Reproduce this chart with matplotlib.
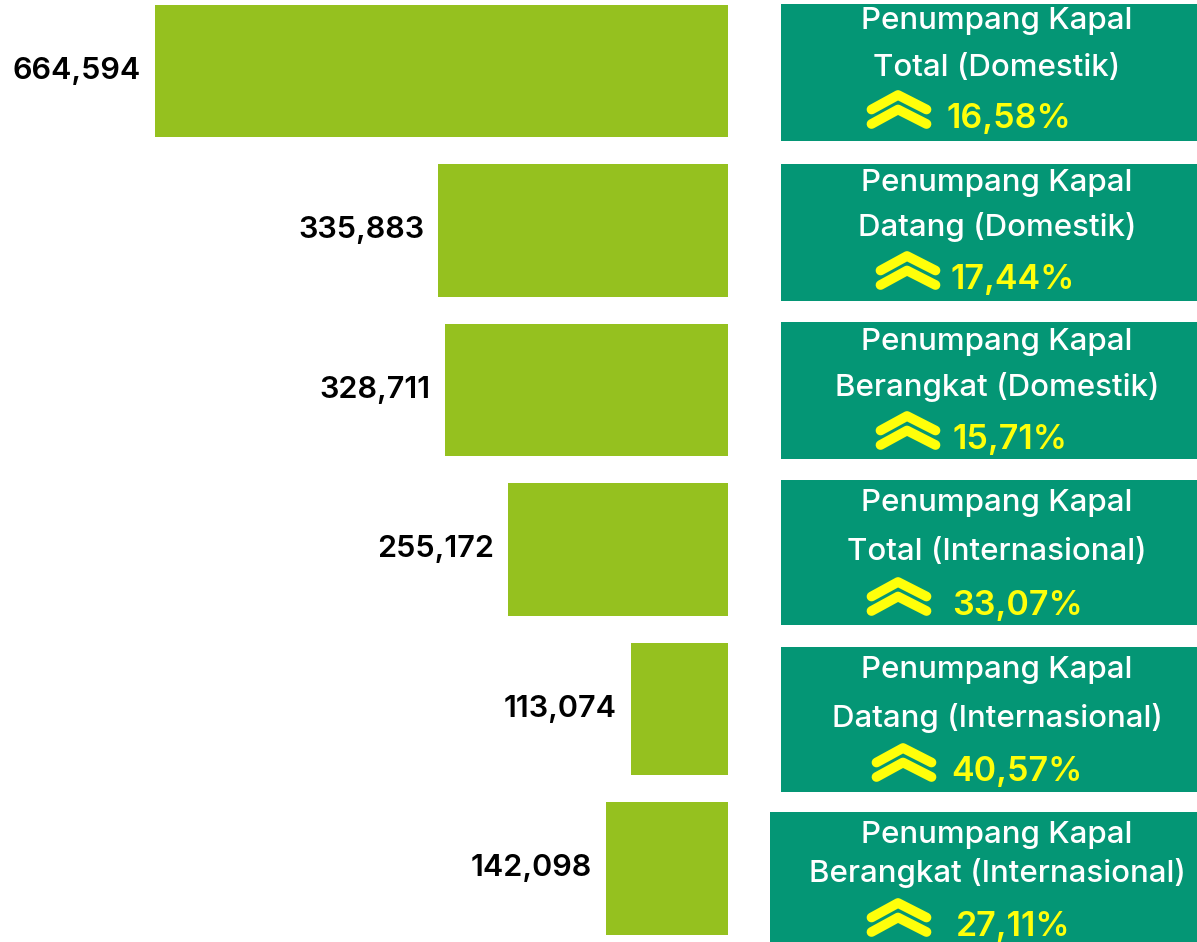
import matplotlib
matplotlib.use("Agg")
import matplotlib.pyplot as plt
from matplotlib.patches import Rectangle

# ---------------- data ----------------
values = [664594, 335883, 328711, 255172, 113074, 142098]
value_labels = ["664,594", "335,883", "328,711", "255,172", "113,074", "142,098"]
title_line1 = ["Penumpang Kapal"] * 6
title_line2 = ["Total (Domestik)", "Datang (Domestik)", "Berangkat (Domestik)",
               "Total (Internasional)", "Datang (Internasional)", "Berangkat (Internasional)"]
growth = ["16,58%", "17,44%", "15,71%", "33,07%", "40,57%", "27,11%"]

# ---------------- style ----------------
BAR_C = "#95C11F"
BOX_C = "#049675"
YEL = "#FFFF0A"
FONT = "Inter"

W, H = 1197, 942
fig = plt.figure(figsize=(W / 100, H / 100), dpi=100)
fig.patch.set_facecolor("white")

# bar axes: right edge at x=728 px, bars grow leftwards
bar_right = 728
ax = fig.add_axes([0, 0, bar_right / W, 1])
ax.set_xlim(844548, 0)
ax.set_ylim(5.461, -0.445)
ax.axis("off")
ypos = list(range(len(values)))
ax.barh(ypos, values, height=0.83, left=0, color=BAR_C)
for y, v, lab in zip(ypos, values, value_labels):
    ax.annotate(lab, xy=(v, y), xytext=(-10, 0), textcoords="offset points",
                ha="right", va="center", fontsize=22, fontweight="semibold",
                family=FONT, color="black")

# overlay axes in pixel units for the info panels
ov = fig.add_axes([0, 0, 1, 1])
ov.set_xlim(0, W)
ov.set_ylim(H, 0)
ov.axis("off")

box_left = [781, 781, 781, 781, 781, 770]
box_top = [4, 164, 322, 480, 647, 812]
box_bot = [141, 301, 459, 625, 792, 945]
base1 = [25, 27, 28, 31, 31, 31]
base2 = [72, 72, 74, 80, 80, 70]
base3 = [124, 125, 127, 135, 134, 124]
chev_x = [867, 876, 876, 867, 872, 867]
pct_x = [947, 950, 953, 952, 951, 956]
cx = 997

for i in range(6):
    t = box_top[i]
    ov.add_patch(Rectangle((box_left[i], t), W + 5 - box_left[i], box_bot[i] - t,
                           facecolor=BOX_C, edgecolor="none"))
    ov.text(cx, t + base1[i], title_line1[i], ha="center", va="baseline",
            fontsize=22.5, fontweight="medium", family=FONT, color="white")
    ov.text(cx, t + base2[i], title_line2[i], ha="center", va="baseline",
            fontsize=22.5, fontweight="medium", family=FONT, color="white")
    ov.text(pct_x[i], t + base3[i], growth[i], ha="left", va="baseline",
            fontsize=24.5, fontweight="semibold", family=FONT, color=YEL)
    # double chevron icon
    b = t + base3[i]
    x0 = chev_x[i] + 4.5
    x1 = chev_x[i] + 31
    x2 = chev_x[i] + 59.5
    for dy in (-33, -18.5):
        ov.plot([x0, x1, x2], [b + dy + 14.5, b + dy, b + dy + 14.5], color=YEL,
                lw=7, solid_capstyle="round", solid_joinstyle="round")

fig.savefig("out.png", dpi=100, facecolor="white")
